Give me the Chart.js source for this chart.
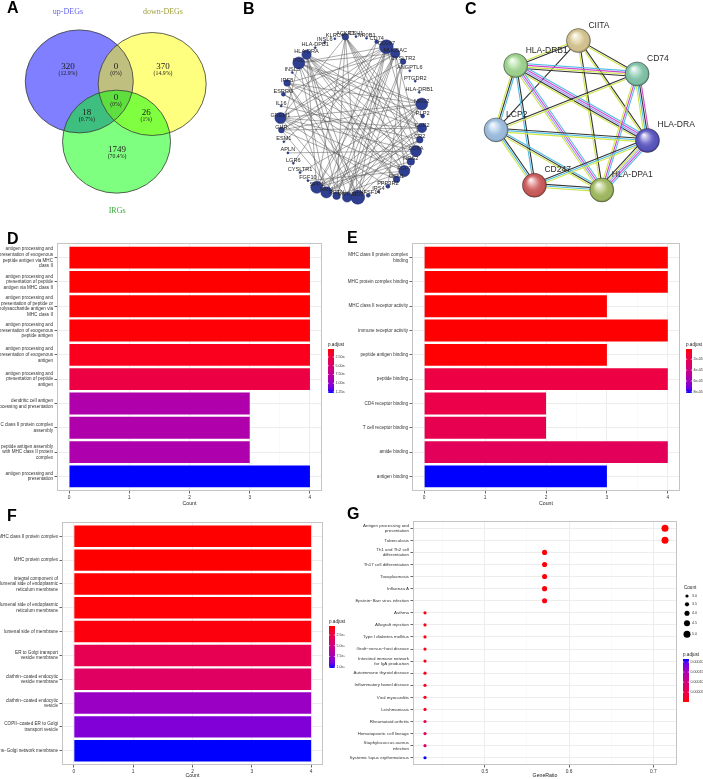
<!DOCTYPE html>
<html>
<head>
<meta charset="utf-8">
<title>Figure</title>
<script src="https://cdn.jsdelivr.net/npm/chart.js@4.4.1/dist/chart.umd.min.js"></script>
<style>
  html, body { margin: 0; padding: 0; background: #fff; }
  #fig { position: relative; width: 703px; height: 779px; overflow: hidden; background: #fff; }
  #fig canvas { position: absolute; }
  .tag { position: absolute; font: bold 16px/16px "Liberation Sans", Arial, sans-serif; color: #000; }
</style>
</head>
<body>
<div id="fig">
  <canvas id="venn" width="240" height="235" style="left:0;top:0"></canvas>
  <canvas id="net" width="230" height="235" style="left:230px;top:0"></canvas>
  <canvas id="ppi" width="243" height="235" style="left:460px;top:0"></canvas>
  <canvas id="goBP" width="345" height="269" style="left:0;top:238px"></canvas>
  <canvas id="goMF" width="363" height="269" style="left:340px;top:238px"></canvas>
  <canvas id="goCC" width="345" height="263" style="left:0;top:516px"></canvas>
  <canvas id="kegg" width="363" height="263" style="left:340px;top:516px"></canvas>
  <div class="tag" style="left:7px;top:0">A</div>
  <div class="tag" style="left:243px;top:1px">B</div>
  <div class="tag" style="left:465px;top:1px">C</div>
  <div class="tag" style="left:7px;top:231px">D</div>
  <div class="tag" style="left:347px;top:230px">E</div>
  <div class="tag" style="left:7px;top:508px">F</div>
  <div class="tag" style="left:347px;top:506px">G</div>
</div>
<script>
const FONT = '"Liberation Sans", Arial, sans-serif';
const SERIF = '"Liberation Serif", "DejaVu Serif", serif';

// ---------- A : Venn
const vennSets = ['up-DEGs', 'down-DEGs', 'IRGs'];
const vennCounts = [320, 0, 370, 18, 0, 26, 1749];      // up, up&down, down, up&IRG, all, down&IRG, IRG
const vennPercents = ['12.9%', '0%', '14.9%', '0.7%', '0%', '1%', '70.4%'];

// ---------- B : interaction network
const netGenes = ['ACKR3', 'CSH1', 'NR0B1', 'CD74', 'CD247', 'MUC5AC', 'CYSLTR2', 'ANGPTL6', 'PTGDR2',
  'HLA-DRB1', 'NKG2', 'PLP2', 'CCR2', 'CR2', 'CD8A', 'NOS2', 'FGF7', 'GKN1', 'PPP3R2', 'IRS4',
  'TNFSF14', 'RD3', 'PRTN3', 'RETN', 'NMU', 'SPP1', 'FGF10', 'CYSLTR1', 'LGR6', 'APLN', 'ESM1',
  'GHR', 'GREM1', 'IL16', 'ESRRG', 'IRF8', 'INSL5', 'PGC', 'HLA-DRA', 'HLA-DPB1', 'INSL6', 'KLRC4'];
const netDegree = [6, 1, 1, 3, 14, 9, 5, 1, 1, 1, 12, 3, 9, 6, 11, 7, 11, 6, 3, 1,
  3, 14, 9, 7, 11, 12, 1, 1, 1, 1, 1, 5, 11, 1, 3, 6, 1, 12, 9, 1, 1, 1];
const netEdges = [
  [4, 25], [4, 32], [4, 21], [4, 37], [4, 14], [4, 30], [4, 34], [4, 22], [4, 23],
  [37, 16], [37, 21], [37, 12], [37, 10], [37, 24], [37, 5], [37, 31], [37, 17],
  [32, 16], [32, 10], [32, 14], [32, 5], [32, 22], [32, 12], [32, 0],
  [25, 10], [25, 5], [25, 38], [25, 12], [25, 0], [25, 15], [25, 13],
  [21, 38], [21, 10], [21, 35], [21, 6], [21, 13], [21, 0],
  [10, 38], [10, 24], [10, 31], [10, 27], [10, 22], [10, 35],
  [14, 38], [14, 24], [14, 35], [14, 29], [14, 0],
  [16, 38], [16, 34], [16, 23], [16, 26], [16, 0], [16, 5],
  [22, 12], [22, 38], [22, 5], [22, 6],
  [24, 12], [24, 5], [24, 13], [24, 35], [24, 3],
  [38, 12], [38, 15], [38, 23], [38, 17],
  [5, 35], [5, 31], [5, 13], [5, 23],
  [12, 35], [12, 31], [12, 0],
  [0, 23], [0, 15], [0, 13],
  [13, 33], [15, 34], [17, 36], [17, 31], [23, 31], [6, 31], [6, 18], [3, 28], [20, 35], [11, 37], [18, 32]
];

// ---------- C : STRING network
const ppiGenes = ['CIITA', 'CD74', 'HLA-DRA', 'HLA-DPA1', 'CD247', 'LCP2', 'HLA-DRB1'];
const ppiEdges = [
  ['CIITA', 'HLA-DRB1', 'ky'], ['CIITA', 'CD74', 'ky'], ['CIITA', 'HLA-DRA', 'ky'],
  ['CIITA', 'HLA-DPA1', 'ky'], ['CIITA', 'LCP2', 'k'],
  ['HLA-DRB1', 'CD74', 'cmyk'], ['HLA-DRB1', 'HLA-DRA', 'cmlky'], ['HLA-DRB1', 'HLA-DPA1', 'cmly'],
  ['HLA-DRB1', 'LCP2', 'cky'], ['HLA-DRB1', 'CD247', 'kc'],
  ['CD74', 'HLA-DRA', 'mkcy'], ['CD74', 'HLA-DPA1', 'cmy'], ['CD74', 'LCP2', 'yk'],
  ['LCP2', 'HLA-DRA', 'kcy'], ['LCP2', 'CD247', 'kcy'], ['LCP2', 'HLA-DPA1', 'cky'],
  ['CD247', 'HLA-DRA', 'kcy'], ['CD247', 'HLA-DPA1', 'kcy'], ['HLA-DRA', 'HLA-DPA1', 'cmlyk']
];

// ---------- D : GO BP
const termsBP = [
  ['antigen processing and', 'presentation of exogenous', 'peptide antigen via MHC', 'class II'],
  ['antigen processing and', 'presentation of peptide', 'antigen via MHC class II'],
  ['antigen processing and', 'presentation of peptide or', 'polysaccharide antigen via', 'MHC class II'],
  ['antigen processing and', 'presentation of exogenous', 'peptide antigen'],
  ['antigen processing and', 'presentation of exogenous', 'antigen'],
  ['antigen processing and', 'presentation of peptide', 'antigen'],
  ['dendritic cell antigen', 'processing and presentation'],
  ['MHC class II protein complex', 'assembly'],
  ['peptide antigen assembly', 'with MHC class II protein', 'complex'],
  ['antigen processing and', 'presentation']
];
const countBP = [4, 4, 4, 4, 4, 4, 3, 3, 3, 4];
const padjBP = [2.1e-8, 2.2e-8, 2.4e-8, 3.2e-8, 9.7e-8, 2.7e-7, 8.4e-7, 8.4e-7, 8.5e-7, 1.28e-6];
const legendBP = [2.5e-7, 5e-7, 7.5e-7, 1e-6, 1.25e-6];
const legendBPText = ['2.50e-07', '5.00e-07', '7.50e-07', '1.00e-06', '1.25e-06'];

// ---------- E : GO MF
const termsMF = [
  ['MHC class II protein complex', 'binding'], 'MHC protein complex binding', 'MHC class II receptor activity',
  'immune receptor activity', 'peptide antigen binding', 'peptide binding', 'CD4 receptor binding',
  'T cell receptor binding', 'amide binding', 'antigen binding'
];
const countMF = [4, 4, 3, 4, 3, 4, 2, 2, 4, 3];
const padjMF = [1.2e-6, 1.2e-6, 1.3e-6, 1.4e-6, 1.6e-6, 1.74e-5, 1.9e-5, 2.14e-5, 2.54e-5, 8.2e-5];
const legendMF = [2e-5, 4e-5, 6e-5, 8e-5];
const legendMFText = ['2e-05', '4e-05', '6e-05', '8e-05'];

// ---------- F : GO CC
const termsCC = [
  'MHC class II protein complex', 'MHC protein complex',
  ['integral component of', 'lumenal side of endoplasmic', 'reticulum membrane'],
  ['lumenal side of endoplasmic', 'reticulum membrane'], 'lumenal side of membrane',
  ['ER to Golgi transport', 'vesicle membrane'], ['clathrin\u2212coated endocytic', 'vesicle membrane'],
  ['clathrin\u2212coated endocytic', 'vesicle'], ['COPII\u2212coated ER to Golgi', 'transport vesicle'],
  'trans\u2212Golgi network membrane'
];
const countCC = [4, 4, 4, 4, 4, 4, 4, 4, 4, 4];
const padjCC = [4e-9, 4e-9, 4.5e-9, 5e-9, 6e-9, 2.9e-8, 3.6e-8, 7.8e-8, 8.6e-8, 1.02e-7];
const legendCC = [2.5e-8, 5e-8, 7.5e-8, 1e-7];
const legendCCText = ['2.5e-08', '5.0e-08', '7.5e-08', '1.0e-07'];

// ---------- G : KEGG
const termsKEGG = [
  ['Antigen processing and', 'presentation'], 'Tuberculosis', ['Th1 and Th2 cell', 'differentiation'],
  'Th17 cell differentiation', 'Toxoplasmosis', 'Influenza A', 'Epstein\u2212Barr virus infection',
  'Asthma', 'Allograft rejection', 'Type I diabetes mellitus', 'Graft\u2212versus\u2212host disease',
  ['Intestinal immune network', 'for IgA production'], 'Autoimmune thyroid disease',
  'Inflammatory bowel disease', 'Viral myocarditis', 'Leishmaniasis', 'Rheumatoid arthritis',
  'Hematopoietic cell lineage', ['Staphylococcus aureus', 'infection'], 'Systemic lupus erythematosus'
];
const countKEGG = [5, 5, 4, 4, 4, 4, 4, 3, 3, 3, 3, 3, 3, 3, 3, 3, 3, 3, 3, 3];
const ratioKEGG = [0.714, 0.714, 0.571, 0.571, 0.571, 0.571, 0.571, 0.429, 0.429, 0.429,
  0.429, 0.429, 0.429, 0.429, 0.429, 0.429, 0.429, 0.429, 0.429, 0.429];
const padjKEGG = [1.2e-6, 1.5e-6, 4e-6, 4e-6, 5e-6, 5e-6, 8e-6, 9e-6, 9e-6, 1e-5,
  1e-5, 1.1e-5, 1.2e-5, 1.2e-5, 1.4e-5, 1.6e-5, 5.9e-5, 6.9e-5, 8.2e-5, 2.15e-4];
const legendKEGG = [2e-4, 1.5e-4, 1e-4, 5e-5];
const legendKEGGText = ['0.00020', '0.00015', '0.00010', '0.00005'];
const sizeLegendKEGG = [3, 3.5, 4, 4.5, 5];
const sizeLegendKEGGText = ['3.0', '3.5', '4.0', '4.5', '5.0'];

const countTicks = [0, 1, 2, 3, 4];
const countMinor = [0.5, 1.5, 2.5, 3.5];
const ratioTicks = [0.5, 0.6, 0.7];
const ratioMinor = [0.45, 0.55, 0.65];

// ---------- colour: red -> blue in CIELAB (like ggplot gradients)
function toLab(rgb) {
  const lin = rgb.map(c => { c /= 255; return c <= 0.04045 ? c / 12.92 : Math.pow((c + 0.055) / 1.055, 2.4); });
  const X = (0.4124 * lin[0] + 0.3576 * lin[1] + 0.1805 * lin[2]) / 0.95047;
  const Y = 0.2126 * lin[0] + 0.7152 * lin[1] + 0.0722 * lin[2];
  const Z = (0.0193 * lin[0] + 0.1192 * lin[1] + 0.9505 * lin[2]) / 1.08883;
  const f = t => t > 0.008856 ? Math.cbrt(t) : 7.787 * t + 16 / 116;
  return [116 * f(Y) - 16, 500 * (f(X) - f(Y)), 200 * (f(Y) - f(Z))];
}
function fromLab([L, a, b]) {
  const fy = (L + 16) / 116, fx = fy + a / 500, fz = fy - b / 200;
  const inv = t => t * t * t > 0.008856 ? t * t * t : (t - 16 / 116) / 7.787;
  const X = inv(fx) * 0.95047, Y = inv(fy), Z = inv(fz) * 1.08883;
  const lin = [3.2406 * X - 1.5372 * Y - 0.4986 * Z, -0.9689 * X + 1.8758 * Y + 0.0415 * Z, 0.0557 * X - 0.2040 * Y + 1.0570 * Z];
  return lin.map(c => {
    c = Math.max(0, Math.min(1, c));
    c = c <= 0.0031308 ? 12.92 * c : 1.055 * Math.pow(c, 1 / 2.4) - 0.055;
    return Math.round(c * 255);
  });
}
const LAB_LO = toLab([255, 0, 0]), LAB_HI = toLab([0, 0, 255]);
function pColor(t) {
  t = Math.max(0, Math.min(1, t));
  const [r, g, b] = fromLab(LAB_LO.map((v, i) => v + (LAB_HI[i] - v) * t));
  return `rgb(${r},${g},${b})`;
}

// circular layout (as used by the network tools)
function ringLayout(n, cx, cy, rx, ry, startDeg) {
  return Array.from({ length: n }, (_, i) => {
    const a = (startDeg + i * 360 / n) * Math.PI / 180;
    return { x: cx + rx * Math.cos(a), y: cy + ry * Math.sin(a) };
  });
}

// ---------- plugins
const panelBox = {
  id: 'panelBox',
  afterDatasetsDraw(chart) {
    const { ctx, chartArea: a } = chart;
    ctx.save();
    ctx.strokeStyle = '#c4c4c4';
    ctx.lineWidth = 1;
    ctx.strokeRect(a.left + 0.5, a.top + 0.5, a.right - a.left - 1, a.bottom - a.top - 1);
    ctx.restore();
  }
};

const colorbar = {
  id: 'colorbar',
  afterDraw(chart, args, o) {
    if (!o || !o.values) return;
    const ctx = chart.ctx;
    const { x, y, w, h, lo, hi, flip } = o;
    ctx.save();
    const grad = ctx.createLinearGradient(0, flip ? y + h : y, 0, flip ? y : y + h);
    for (let i = 0; i <= 10; i++) grad.addColorStop(i / 10, pColor(i / 10));
    ctx.fillStyle = grad;
    ctx.fillRect(x, y, w, h);
    ctx.fillStyle = '#222';
    ctx.font = `4.6px ${FONT}`;
    ctx.textBaseline = 'alphabetic';
    ctx.fillText(o.title, x, y - 3.5);
    ctx.font = `3.6px ${FONT}`;
    ctx.textBaseline = 'middle';
    o.values.forEach((v, i) => {
      const f = (v - lo) / (hi - lo);
      const ty = flip ? y + h * (1 - f) : y + h * f;
      ctx.strokeStyle = '#fff';
      ctx.lineWidth = 0.6;
      ctx.beginPath();
      ctx.moveTo(x, ty); ctx.lineTo(x + 1.2, ty);
      ctx.moveTo(x + w - 1.2, ty); ctx.lineTo(x + w, ty);
      ctx.stroke();
      ctx.fillStyle = '#333';
      ctx.fillText(o.labels[i], x + w + 1.5, ty);
    });
    ctx.restore();
  }
};

const sizeLegend = {
  id: 'sizeLegend',
  afterDraw(chart, args, o) {
    if (!o || !o.values) return;
    const ctx = chart.ctx;
    ctx.save();
    ctx.fillStyle = '#222';
    ctx.font = `4.6px ${FONT}`;
    ctx.fillText(o.title, o.x, o.titleY);
    ctx.font = `3.6px ${FONT}`;
    ctx.textBaseline = 'middle';
    o.values.forEach((v, i) => {
      ctx.fillStyle = '#000';
      ctx.beginPath();
      ctx.arc(o.dotX, o.rows[i], sizeFor(v), 0, 2 * Math.PI);
      ctx.fill();
      ctx.fillStyle = '#333';
      ctx.fillText(o.labels[i], o.dotX + 5, o.rows[i]);
    });
    ctx.restore();
  }
};

function sizeFor(count) { return 1.6 + 0.95 * (count - 3); }

// ---------- axes helpers
function termAxis(terms, width, fontSize) {
  return {
    type: 'linear', reverse: true, min: 0.4, max: terms.length + 0.6, offset: false,
    afterBuildTicks: s => { s.ticks = terms.map((t, i) => ({ value: i + 1 })); },
    afterFit: s => { s.width = width; s.paddingTop = 0; s.paddingBottom = 0; },
    ticks: {
      autoSkip: false, padding: 1.5, color: '#333',
      font: { family: FONT, size: fontSize, lineHeight: 1.22 },
      callback: v => terms[Math.round(v) - 1]
    },
    grid: { offset: false, color: '#ebebeb', lineWidth: 0.9, tickLength: 2.5, tickColor: '#555' },
    border: { display: false }
  };
}

function valueAxis(major, minor, lo, hi, fmt, title, height) {
  const isMajor = v => major.some(m => Math.abs(m - v) < 1e-9);
  return {
    type: 'linear', min: lo, max: hi, offset: false,
    afterBuildTicks: s => { s.ticks = major.concat(minor).sort((a, b) => a - b).map(v => ({ value: v })); },
    afterFit: s => { s.height = height; s.paddingLeft = 0; s.paddingRight = 0; },
    ticks: {
      autoSkip: false, maxRotation: 0, padding: 1, color: '#333',
      font: { family: FONT, size: 4.8 },
      callback: v => isMajor(v) ? fmt(v) : ''
    },
    grid: {
      offset: false,
      color: c => (c.tick && isMajor(c.tick.value)) ? '#ebebeb' : '#f5f5f5',
      lineWidth: c => (c.tick && isMajor(c.tick.value)) ? 0.9 : 0.5,
      tickLength: 2.5,
      tickColor: c => (c.tick && isMajor(c.tick.value)) ? '#555' : 'rgba(0,0,0,0)'
    },
    border: { display: false },
    title: { display: true, text: title, color: '#222', font: { family: FONT, size: 5.2 }, padding: { top: 0, bottom: 0 } }
  };
}

// ---------- bar panels D, E, F
function barPanel(id, terms, counts, padj, geom, legend) {
  const lo = Math.min(...padj), hi = Math.max(...padj);
  const cmax = Math.max(...counts);
  return new Chart(document.getElementById(id), {
    type: 'bar',
    data: {
      datasets: [{
        data: counts.map((c, i) => ({ x: c, y: i + 1 })),
        backgroundColor: padj.map(p => pColor((p - lo) / (hi - lo))),
        borderWidth: 0,
        barPercentage: 0.9,
        categoryPercentage: 1
      }]
    },
    options: {
      indexAxis: 'y', responsive: false, animation: false,
      layout: { padding: { top: geom.top, right: geom.right, left: 0, bottom: 0 } },
      plugins: {
        legend: { display: false }, tooltip: { enabled: false },
        colorbar: Object.assign({ title: 'p.adjust', lo, hi, flip: false }, legend)
      },
      scales: {
        x: valueAxis(countTicks, countMinor, -0.05 * cmax, 1.05 * cmax, v => String(v), 'Count', geom.xh),
        y: termAxis(terms, geom.yw, 4.6)
      }
    },
    plugins: [panelBox, colorbar]
  });
}

barPanel('goBP', termsBP, countBP, padjBP, { top: 5, right: 23, yw: 57, xh: 16 },
  { x: 328, y: 111, w: 6, h: 44, values: legendBP, labels: legendBPText });
barPanel('goMF', termsMF, countMF, padjMF, { top: 5, right: 23, yw: 72, xh: 16 },
  { x: 346, y: 111, w: 6, h: 44, values: legendMF, labels: legendMFText });
barPanel('goCC', termsCC, countCC, padjCC, { top: 6, right: 22, yw: 62, xh: 14 },
  { x: 329, y: 110, w: 6, h: 42, values: legendCC, labels: legendCCText });

// ---------- dot panel G
(function () {
  const lo = Math.min(...padjKEGG), hi = Math.max(...padjKEGG);
  const rlo = Math.min(...ratioKEGG), rhi = Math.max(...ratioKEGG);
  const pad = (rhi - rlo) * 0.05;
  new Chart(document.getElementById('kegg'), {
    type: 'scatter',
    data: {
      datasets: [{
        data: ratioKEGG.map((r, i) => ({ x: r, y: i + 1 })),
        pointRadius: countKEGG.map(sizeFor),
        pointHoverRadius: countKEGG.map(sizeFor),
        backgroundColor: padjKEGG.map(p => pColor((p - lo) / (hi - lo))),
        borderWidth: 0
      }]
    },
    options: {
      responsive: false, animation: false,
      layout: { padding: { top: 5, right: 26, left: 0, bottom: 0 } },
      plugins: {
        legend: { display: false }, tooltip: { enabled: false },
        colorbar: { title: 'p.adjust', lo, hi, flip: true, x: 343, y: 143, w: 6, h: 43, values: legendKEGG, labels: legendKEGGText },
        sizeLegend: { title: 'Count', x: 344, titleY: 72.5, dotX: 347, rows: [80, 88.3, 97.3, 107.3, 118.3], values: sizeLegendKEGG, labels: sizeLegendKEGGText }
      },
      scales: {
        x: valueAxis(ratioTicks, ratioMinor, rlo - pad, rhi + pad, v => v.toFixed(1), 'GeneRatio', 14),
        y: termAxis(termsKEGG, 73, 4.4)
      }
    },
    plugins: [panelBox, colorbar, sizeLegend]
  });
})();

// ---------- A : Venn chart
const vennCircles = [[-0.68, 0.40], [0.67, 0.35], [0.01, -0.77]];   // layout, circle radii units
const vennFills = ['rgba(0,0,255,0.5)', 'rgba(255,255,0,0.5)', 'rgba(0,255,0,0.5)'];
const vennSetColors = ['#6464ee', '#a0a040', '#3aaa3a'];
const vennSpots = [[-0.89, 0.68], [0, 0.68], [0.87, 0.68], [-0.54, -0.21], [0, 0.08], [0.56, -0.21], [0.02, -0.93]];
const vennTitleSpots = [[-0.89, 1.75], [0.87, 1.75], [0.02, -2.12]];

const vennPlugin = {
  id: 'venn',
  beforeDatasetsDraw(chart) {
    const { ctx, scales: { x, y } } = chart;
    const rx = x.getPixelForValue(1) - x.getPixelForValue(0);
    const ry = y.getPixelForValue(0) - y.getPixelForValue(1);
    ctx.save();
    vennCircles.forEach(([cx, cy], i) => {
      ctx.beginPath();
      ctx.ellipse(x.getPixelForValue(cx), y.getPixelForValue(cy), rx, ry, 0, 0, 2 * Math.PI);
      ctx.fillStyle = vennFills[i];
      ctx.fill();
    });
    ctx.strokeStyle = '#3a3a3a';
    ctx.lineWidth = 0.8;
    vennCircles.forEach(([cx, cy]) => {
      ctx.beginPath();
      ctx.ellipse(x.getPixelForValue(cx), y.getPixelForValue(cy), rx, ry, 0, 0, 2 * Math.PI);
      ctx.stroke();
    });
    ctx.textAlign = 'center';
    ctx.textBaseline = 'middle';
    vennCounts.forEach((n, i) => {
      const px = x.getPixelForValue(vennSpots[i][0]), py = y.getPixelForValue(vennSpots[i][1]);
      ctx.fillStyle = '#1a1a1a';
      ctx.font = `9px ${SERIF}`;
      ctx.fillText(String(n), px, py);
      ctx.font = `5.8px ${SERIF}`;
      ctx.fillText('(' + vennPercents[i] + ')', px, py + 6.5);
    });
    vennSets.forEach((s, i) => {
      ctx.fillStyle = vennSetColors[i];
      ctx.font = `8px ${SERIF}`;
      ctx.fillText(s, x.getPixelForValue(vennTitleSpots[i][0]), y.getPixelForValue(vennTitleSpots[i][1]));
    });
    ctx.restore();
  }
};

new Chart(document.getElementById('venn'), {
  type: 'scatter',
  data: { datasets: [] },
  options: {
    responsive: false, animation: false,
    plugins: { legend: { display: false }, tooltip: { enabled: false } },
    scales: {
      x: { type: 'linear', display: false, min: -2.148, max: 2.296 },
      y: { type: 'linear', display: false, min: -2.583, max: 1.981 }
    }
  },
  plugins: [vennPlugin]
});

// ---------- B : network chart
const netRing = ringLayout(netGenes.length, 122, 117, 76, 86, -95);
const netPlugin = {
  id: 'netDraw',
  beforeDatasetsDraw(chart) {
    const { ctx, scales: { x, y } } = chart;
    ctx.save();
    ctx.strokeStyle = 'rgba(85,85,85,0.62)';
    ctx.lineWidth = 0.8;
    netEdges.forEach(([a, b]) => {
      ctx.beginPath();
      ctx.moveTo(x.getPixelForValue(netRing[a].x), y.getPixelForValue(netRing[a].y));
      ctx.lineTo(x.getPixelForValue(netRing[b].x), y.getPixelForValue(netRing[b].y));
      ctx.stroke();
    });
    ctx.restore();
  },
  afterDatasetsDraw(chart) {
    const { ctx } = chart;
    const pts = chart.getDatasetMeta(0).data;
    ctx.save();
    ctx.font = `5.6px ${FONT}`;
    ctx.fillStyle = '#262626';
    ctx.textAlign = 'center';
    ctx.textBaseline = 'middle';
    pts.forEach((p, i) => ctx.fillText(netGenes[i], p.x, p.y - 3));
    ctx.restore();
  }
};

new Chart(document.getElementById('net'), {
  type: 'scatter',
  data: {
    datasets: [{
      data: netRing,
      pointRadius: netDegree.map(d => 0.6 + d * 0.45),
      pointHoverRadius: netDegree.map(d => 0.6 + d * 0.45),
      backgroundColor: '#2e3f92',
      borderColor: '#1f2c70',
      borderWidth: 0.5
    }]
  },
  options: {
    responsive: false, animation: false,
    plugins: { legend: { display: false }, tooltip: { enabled: false } },
    scales: {
      x: { type: 'linear', display: false, min: 0, max: 230 },
      y: { type: 'linear', display: false, min: 0, max: 235, reverse: true }
    }
  },
  plugins: [netPlugin]
});

// ---------- C : STRING chart
const ppiColors = ['#dccb95', '#84c9ad', '#5b57c6', '#a6bf63', '#d25c5c', '#a2c3e6', '#a3db93'];
const evidenceColors = { c: '#4fbde6', m: '#d048d0', y: '#cfe64a', k: '#333333', l: '#9999ff' };
const ppiRing = ringLayout(ppiGenes.length, 112, 118, 87, 87, -86);

const ppiPlugin = {
  id: 'ppiDraw',
  beforeDatasetsDraw(chart) {
    const { ctx, scales: { x, y } } = chart;
    ctx.save();
    ctx.lineWidth = 1.1;
    ppiEdges.forEach(([a, b, codes]) => {
      const pa = ppiRing[ppiGenes.indexOf(a)], pb = ppiRing[ppiGenes.indexOf(b)];
      const x1 = x.getPixelForValue(pa.x), y1 = y.getPixelForValue(pa.y);
      const x2 = x.getPixelForValue(pb.x), y2 = y.getPixelForValue(pb.y);
      const len = Math.hypot(x2 - x1, y2 - y1);
      const nx = -(y2 - y1) / len, ny = (x2 - x1) / len;
      const n = codes.length;
      codes.split('').forEach((c, k) => {
        const off = (k - (n - 1) / 2) * 1.7;
        ctx.strokeStyle = evidenceColors[c];
        ctx.beginPath();
        ctx.moveTo(x1 + nx * off, y1 + ny * off);
        ctx.lineTo(x2 + nx * off, y2 + ny * off);
        ctx.stroke();
      });
    });
    ctx.restore();
  },
  afterDatasetsDraw(chart) {
    const { ctx } = chart;
    const pts = chart.getDatasetMeta(0).data;
    ctx.save();
    pts.forEach((p, i) => {
      const r = p.options.radius;
      const g = ctx.createRadialGradient(p.x - r * 0.3, p.y - r * 0.45, r * 0.05, p.x, p.y, r);
      g.addColorStop(0, 'rgba(255,255,255,0.9)');
      g.addColorStop(0.45, 'rgba(255,255,255,0.2)');
      g.addColorStop(0.85, 'rgba(0,0,0,0.04)');
      g.addColorStop(1, 'rgba(0,0,0,0.3)');
      ctx.beginPath();
      ctx.arc(p.x, p.y, r, 0, 2 * Math.PI);
      ctx.fillStyle = g;
      ctx.fill();
      ctx.fillStyle = '#2a2a2a';
      ctx.font = `8.5px ${FONT}`;
      ctx.fillText(ppiGenes[i], p.x + 10, p.y - 13);
    });
    ctx.restore();
  }
};

new Chart(document.getElementById('ppi'), {
  type: 'scatter',
  data: {
    datasets: [{
      data: ppiRing,
      pointRadius: 12,
      pointHoverRadius: 12,
      backgroundColor: ppiColors,
      borderColor: 'rgba(60,60,60,0.55)',
      borderWidth: 0.8
    }]
  },
  options: {
    responsive: false, animation: false,
    plugins: { legend: { display: false }, tooltip: { enabled: false } },
    scales: {
      x: { type: 'linear', display: false, min: 0, max: 243 },
      y: { type: 'linear', display: false, min: 0, max: 235, reverse: true }
    }
  },
  plugins: [ppiPlugin]
});
</script>
</body>
</html>
